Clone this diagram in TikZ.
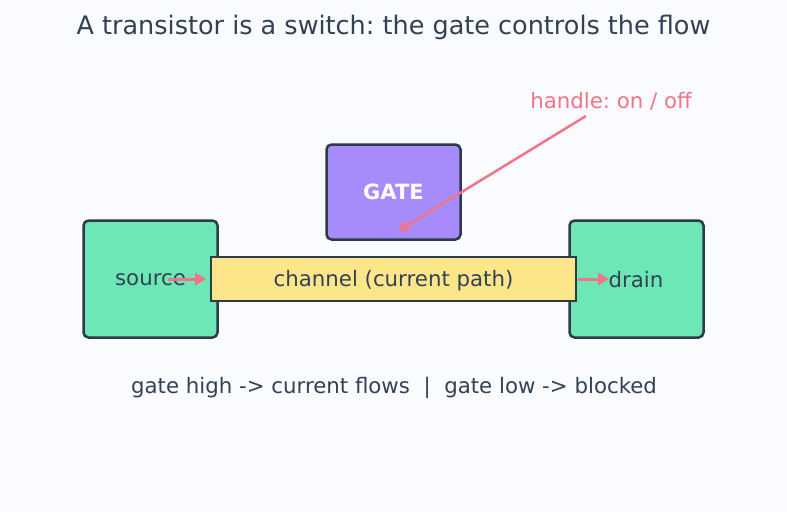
\documentclass[tikz,border=0pt]{standalone}
\usepackage{fontspec}
\setmainfont{DejaVu Sans}
\usetikzlibrary{arrows.meta}
\definecolor{bg}{HTML}{FAFBFE}
\definecolor{ink}{HTML}{334155}
\definecolor{edge}{HTML}{2D3A4A}
\definecolor{mint}{HTML}{6EE7B7}
\definecolor{violet}{HTML}{A78BFA}
\definecolor{sand}{HTML}{FDE68A}
\definecolor{rose}{HTML}{F0758A}
\tikzset{
  term/.style={draw=edge, line width=2.5pt, fill=mint, rounded corners=5pt, minimum width=134pt, minimum height=117pt, inner sep=0pt},
  gatebox/.style={draw=edge, line width=2.5pt, fill=violet, rounded corners=5pt, minimum width=134pt, minimum height=95pt, inner sep=0pt, text=white, font=\fontsize{21}{25}\selectfont\bfseries},
  chanbox/.style={draw=edge, line width=1.6pt, fill=sand, minimum width=365pt, minimum height=44pt, inner sep=0pt},
  lbl/.style={text=ink, font=\fontsize{21.3}{25}\selectfont},
  flow/.style={draw=rose, line width=3pt, -{Triangle[length=11pt,width=12pt]}},
}
\begin{document}
\frenchspacing
\begin{tikzpicture}[x=1pt,y=-1pt]
\useasboundingbox (0,0) rectangle (787,512);
\fill[bg] (0,0) rectangle (787,512);
\node[text=ink, font=\fontsize{25.5}{30}\selectfont] (title) at (393.5,27) {A transistor is a switch: the gate controls the flow};
\node[term] (src) at (150.5,279) {};
\node[term] (drn) at (636.5,279) {};
\node[gatebox] (gate) at (393.5,192) {GATE};
\node[chanbox] (chan) at (393.5,279) {};
\node[lbl] (chant) at (393.5,281) {channel (current path)};
\node[lbl] (srct) at (150.5,280) {source};
\node[lbl] (drnt) at (636,280) {drain};
\coordinate (s1) at (168,279);
\draw[flow] (s1) -- ([xshift=-4pt]chan.west);
\coordinate (d2) at (609,279);
\draw[flow] ([xshift=1pt]chan.east) -- (d2);
\node[text=rose, font=\fontsize{21.3}{25}\selectfont] (hl) at (611,101) {handle: on / off};
\coordinate (h1) at (586,116);
\coordinate (h2) at (398,231);
\draw[draw=rose, line width=2.5pt, -{Triangle[length=11pt,width=11pt]}] (h1) -- (h2);
\node[lbl] (note) at (394,388) {gate high -> current flows \ | \ gate low -> blocked};
\end{tikzpicture}
\end{document}
